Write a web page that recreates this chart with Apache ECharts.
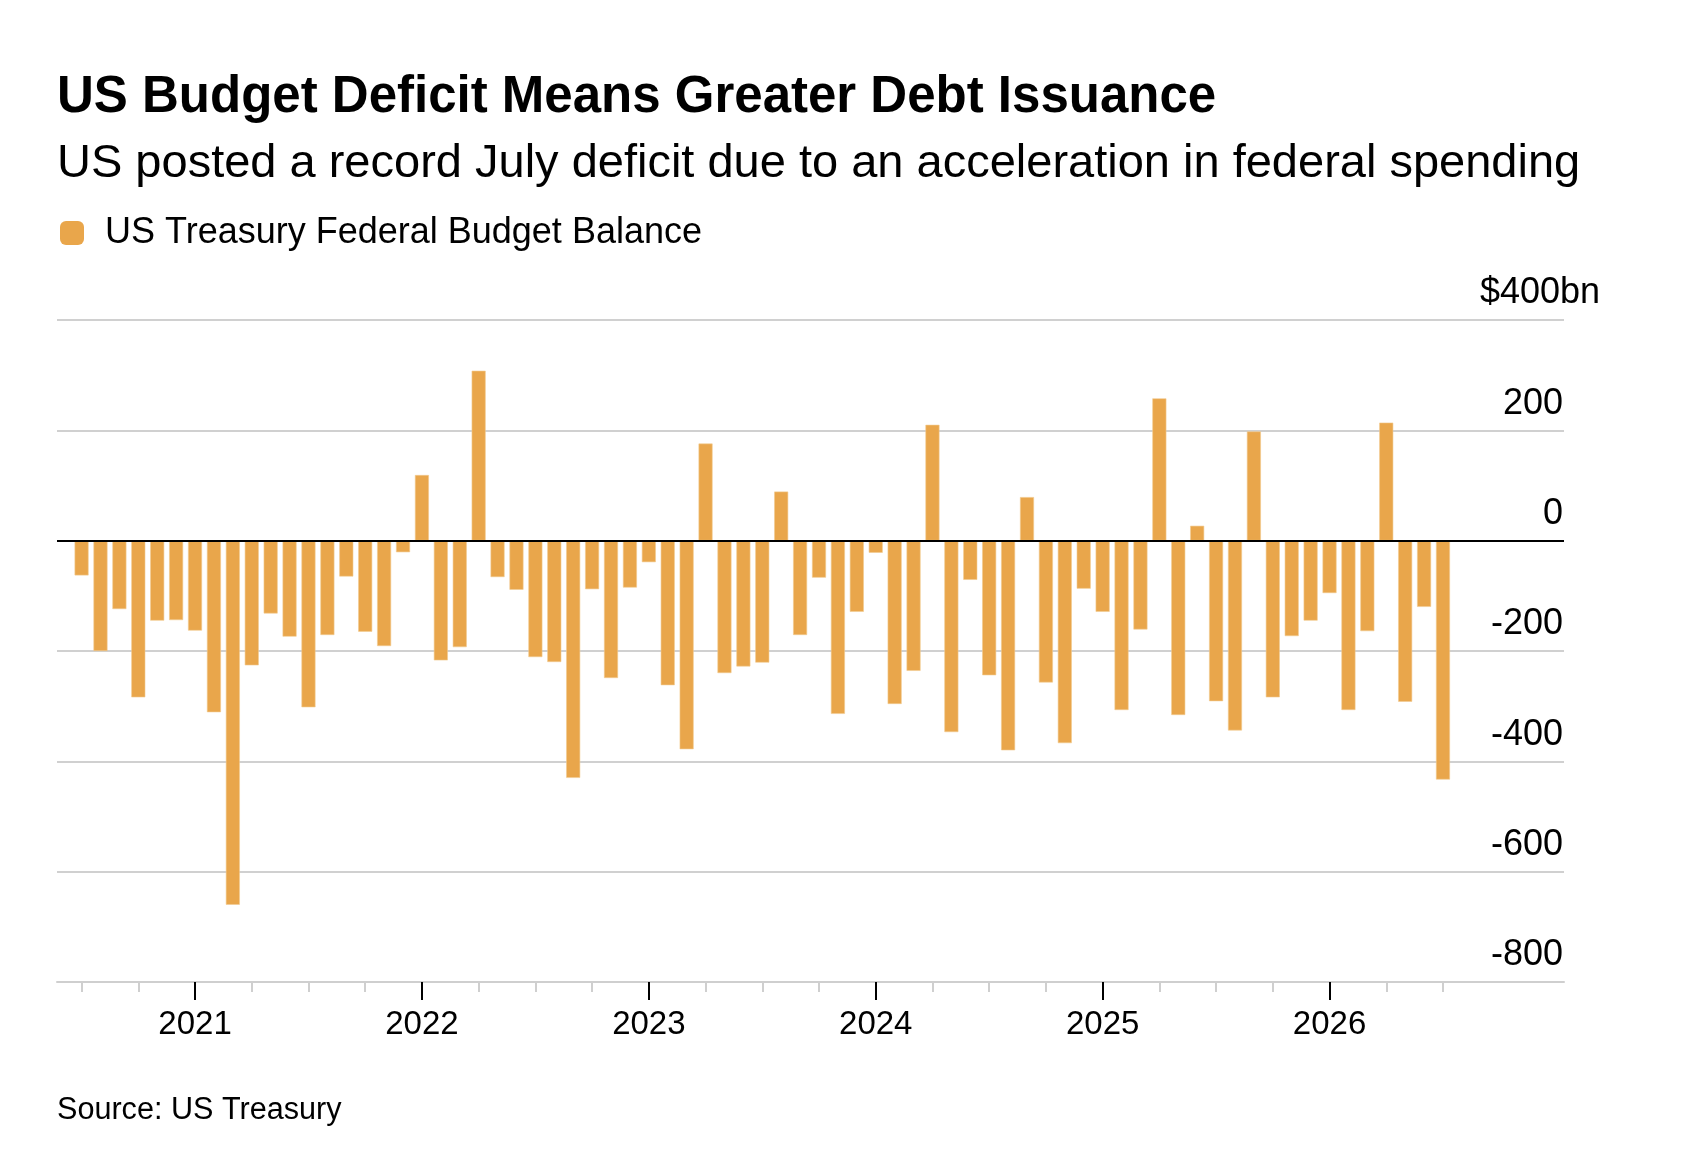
<!DOCTYPE html>
<html lang="en">
<head>
<meta charset="UTF-8">
<title>US Budget Deficit Means Greater Debt Issuance</title>
<script src="https://cdn.jsdelivr.net/npm/echarts@6/dist/echarts.min.js"></script>
<style>
    * { margin: 0; padding: 0; }
    body { background: #fff; }
    #chart { width: 1692px; height: 1164px; }
</style>
</head>
<body>
<div id="chart"></div>
<script>
    // monthly balance, Jul 2020 .. Jul 2026 ($bn)
    var balance = [
        -63, -200, -124, -284, -145, -144, -163, -311, -660, -226, -132, -174,
        -302, -171, -65, -165, -191, -21, 119, -217, -193, 308, -66, -89,
        -211, -220, -430, -88, -249, -85, -39, -262, -378, 176, -240, -228,
        -221, 89, -171, -67, -314, -129, -22, -296, -236, 210, -347, -71,
        -244, -380, 79, -257, -367, -87, -129, -307, -161, 258, -316, 27,
        -291, -344, 198, -284, -173, -145, -95, -307, -164, 214, -292, -120,
        -433
    ];
    var firstYear = 2020, firstMonth = 7;
    var months = [];
    for (var i = 0; i < balance.length; i++) {
        var m = firstMonth - 1 + i;
        months.push((firstYear + Math.floor(m / 12)) + '-' + ('0' + (m % 12 + 1)).slice(-2));
    }
    var yearLabels = ['2021', '2022', '2023', '2024', '2025', '2026'];
    var yTicks = [-800, -600, -400, -200, 0, 200, 400];

    // tick positions in month index: quarters, and Januaries for the year labels
    var quarterTicks = [], yearTicks = [];
    months.forEach(function (m, i) {
        var mm = +m.slice(5);
        if ((mm - 1) % 3 === 0) quarterTicks.push(i);
        if (mm === 1) yearTicks.push(i);
    });

    var font = 'Liberation Sans, Arial, sans-serif';

    var option = {
        animation: false,
        textStyle: { fontFamily: font },
        title: [{
            text: 'US Budget Deficit Means Greater Debt Issuance',
            left: 57, top: 72, padding: 0,
            textStyle: { fontFamily: font, fontSize: 51, fontWeight: 'bold', lineHeight: 51, color: '#000' }
        }, {
            text: 'US posted a record July deficit due to an acceleration in federal spending',
            left: 57, top: 141, padding: 0,
            textStyle: { fontFamily: font, fontSize: 47, fontWeight: 'normal', lineHeight: 47, color: '#000' }
        }, {
            text: 'Source: US Treasury',
            left: 57, top: 1096, padding: 0,
            textStyle: { fontFamily: font, fontSize: 30.6, fontWeight: 'normal', lineHeight: 30, color: '#000' }
        }],
        legend: {
            left: 60, top: 215, padding: 0,
            icon: 'roundRect',
            itemWidth: 24, itemHeight: 24,
            selectedMode: false,
            itemStyle: { borderWidth: 0 },
            data: ['US Treasury Federal Budget Balance'],
            textStyle: { fontFamily: font, fontSize: 36, lineHeight: 36, color: '#000', padding: [0, 0, 0, 16] }
        },
        grid: { left: 57, right: 128, top: 320, bottom: 182 },
        xAxis: [{
            type: 'value', min: -1.3, max: 78.4,
            position: 'bottom',
            axisLine: { show: true, onZero: false, lineStyle: { color: '#cfcfcf', width: 2 } },
            axisTick: { show: true, customValues: quarterTicks, length: 10, lineStyle: { color: '#cfcfcf', width: 2 } },
            axisLabel: { show: false },
            splitLine: { show: false }
        }, {
            type: 'value', min: -1.3, max: 78.4,
            position: 'bottom',
            axisLine: { show: false, onZero: false },
            axisTick: { show: true, customValues: yearTicks, length: 18, lineStyle: { color: '#000', width: 2 } },
            axisLabel: {
                customValues: yearTicks,
                margin: 26,
                fontSize: 33, lineHeight: 33, color: '#000', fontFamily: font,
                formatter: function (v) { return yearLabels[yearTicks.indexOf(v)]; }
            },
            splitLine: { show: false }
        }],
        yAxis: [{
            type: 'value', position: 'right',
            min: yTicks[0], max: yTicks[yTicks.length - 1], interval: 200,
            axisLine: { show: false },
            axisTick: { show: false },
            splitLine: { lineStyle: { color: '#d0d0d0', width: 2 } },
            axisLabel: {
                inside: true, margin: 1, align: 'right', verticalAlign: 'bottom',
                lineHeight: 53, fontSize: 36, color: '#000', fontFamily: font,
                formatter: function (v) { return v === 400 ? '' : String(v); }
            }
        }, {
            type: 'value', position: 'right',
            min: yTicks[0], max: yTicks[yTicks.length - 1], interval: 200,
            axisLine: { show: false },
            axisTick: { show: false },
            splitLine: { show: false },
            axisLabel: {
                inside: true, margin: 84, align: 'left', verticalAlign: 'bottom',
                lineHeight: 54, fontSize: 36, color: '#000', fontFamily: font,
                formatter: function (v) { return v === 400 ? '$400bn' : ''; }
            }
        }],
        series: [{
            name: 'US Treasury Federal Budget Balance',
            type: 'bar',
            xAxisIndex: 0,
            yAxisIndex: 0,
            barWidth: 14,
            itemStyle: { color: '#e9a64b', borderColor: '#f2cb90', borderWidth: 0.6 },
            data: balance.map(function (v, i) { return [i, v]; }),
            markLine: {
                silent: true,
                symbol: 'none',
                label: { show: false },
                lineStyle: { color: '#000', width: 2, type: 'solid' },
                data: [{ yAxis: 0 }]
            }
        }]
    };

    var myChart = echarts.init(document.getElementById('chart'));
    myChart.setOption(option);
</script>
</body>
</html>
